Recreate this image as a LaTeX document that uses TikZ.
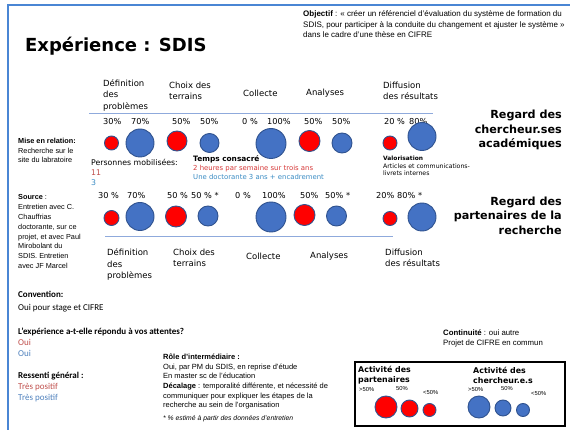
\documentclass[tikz,border=0pt]{standalone}
\usepackage{fontspec}
\setmainfont{Liberation Sans}
\newfontfamily\dejavu{DejaVu Sans}
\newfontfamily\carlito{Carlito}
\usepackage{tikz}
\definecolor{framblue}{RGB}{74,134,212}
\definecolor{ballblue}{RGB}{68,114,196}
\definecolor{ballline}{RGB}{47,82,143}
\definecolor{rulecol}{RGB}{143,170,220}
\definecolor{txtred}{RGB}{192,80,77}
\definecolor{txtblue}{RGB}{79,129,189}
\definecolor{tempsred}{RGB}{214,56,56}
\definecolor{tempsblue}{RGB}{58,140,196}
\newcommand\fsz[2]{\fontsize{#1}{#2}\selectfont}
\newcommand\heavy{\dejavu\bfseries}

\begin{document}
\begin{tikzpicture}[x=1pt, y=-1pt,
	txt/.style={inner sep=0pt, anchor=west, align=left},
	stage/.style={txt, font=\dejavu\fsz{8.5}{11.5}},
	pct/.style={txt, font=\dejavu\fsz{8.2}{10}},
	tiny/.style={txt, font=\fsz{5.8}{7}},
	ball/.style={circle, draw=ballline, line width=0.9pt, inner sep=0pt, minimum size=#1pt},
	regard/.style={inner sep=0pt, anchor=east, align=right, font=\heavy\fsz{11.2}{14.5}},
	rulerline/.style={rulecol, line width=1pt}]
	\fill[white] (0,0) rectangle (570,430);
	\useasboundingbox (0,0) rectangle (570,430);
	\draw[framblue, line width=2pt] (8,432) -- (8,5) -- (572,5);
	% Head
	\node[inner sep=0pt, anchor=base west, font=\heavy\fsz{18}{22}] (Title) at (25,52) {Expérience : SDIS};
	\node[txt, font=\fsz{8}{10.5}] (Objectif) at (303,24.5) {\textbf{Objectif} : « créer un référenciel d'évaluation du système de formation du\\SDIS, pour participer à la conduite du changement et ajuster le système »\\dans le cadre d'une thèse en CIFRE};
	% Regard des chercheur.ses
	\node[stage] (AcDef) at (103,95) {Définition\\des\\problèmes};
	\node[stage] (AcCho) at (169,91) {Choix des\\terrains};
	\node[stage] (AcCol) at (243,93) {Collecte};
	\node[stage] (AcAna) at (306,93) {Analyses};
	\node[stage] (AcDif) at (383,91) {Diffusion\\des résultats};
	\coordinate (AcRuleL) at (89,114);
	\coordinate (AcRuleR) at (433,114);
	\draw[rulerline] (AcRuleL) -- (AcRuleR);
	\foreach \x/\t [count=\i] in {103/30\%, 131/70\%, 172/50\%, 200/50\%, 242/0 \%, 267/100\%, 304/50\%, 332/50\%, 384/20 \%, 409/80\%}
		\node[pct] (AcPct\i) at (\x,121.5) {\t};
	\foreach \n/\x/\y/\d/\f in {AcDefR/111.5/143/14/red, AcDefB/140/143/28/ballblue, AcChoR/177/141/20/red, AcChoB/209.5/143/19/ballblue, AcColB/271/143.5/30/ballblue, AcAnaR/309.5/141/21/red, AcAnaB/342/143/20/ballblue, AcDifR/390/143/14/red, AcDifB/422/136.5/28/ballblue}
		\node[ball=\d, fill=\f] (\n) at (\x,\y) {};
	\node[regard] (RegardAcad) at (562,130) {Regard des\\chercheur.ses\\académiques};
	\node[txt, font=\dejavu\fsz{7.8}{10}] (Personnes) at (91,172) {Personnes mobilisées:\\\textcolor{txtred}{11}\\\textcolor{tempsblue}{3}};
	\node[txt, font=\dejavu\fsz{6.9}{9}] (Temps) at (193,168) {{\heavy\fsz{7.4}{9}Temps consacré}\\\textcolor{tempsred}{2 heures par semaine sur trois ans}\\\textcolor{tempsblue}{Une doctorante 3 ans + encadrement}};
	\node[txt, font=\dejavu\fsz{6.2}{7.5}] (Valor) at (383,166) {{\heavy\fsz{5.9}{7.5}Valorisation}\\Articles et communications-\\livrets internes};
	% Regard des partenaires
	\foreach \x/\t [count=\i] in {98/30 \%, 127/70\%, 167/50 \%, 191/50 \% *, 235/0 \%, 262/100\%, 300/50\%, 325/50\% *, 376/20\%, 397/80\% *}
		\node[pct] (PaPct\i) at (\x,195.5) {\t};
	\foreach \n/\x/\y/\d/\f in {PaDefR/111.5/218/15/red, PaDefB/140/216.5/28/ballblue, PaChoR/176/216.5/21/red, PaChoB/208/216/20/ballblue, PaColB/271/217/30/ballblue, PaAnaR/304.5/215/21/red, PaAnaB/336.5/216/20/ballblue, PaDifR/390/218.5/14/red, PaDifB/422/217/28/ballblue}
		\node[ball=\d, fill=\f] (\n) at (\x,\y) {};
	\coordinate (PaRuleL) at (105,236.5);
	\coordinate (PaRuleR) at (393,236.5);
	\draw[rulerline] (PaRuleL) -- (PaRuleR);
	\node[stage] (PaDef) at (107,264.5) {Définition\\des\\problèmes};
	\node[stage] (PaCho) at (173,258) {Choix des\\terrains};
	\node[stage] (PaCol) at (246,256) {Collecte};
	\node[stage] (PaAna) at (310,256.5) {Analyses};
	\node[stage] (PaDif) at (385,258) {Diffusion\\des résultats};
	\node[regard] (RegardPart) at (562,215.5) {Regard des\\partenaires de la\\recherche};
	% Left column
	\node[txt, font=\fsz{7.3}{9.5}] (MiseRel) at (18,150.5) {\textbf{Mise en relation:}\\Recherche sur le\\site du labratoire};
	\node[txt, font=\fsz{7.3}{9.8}] (Source) at (18,231.6) {\textbf{Source} :\\Entretien avec C.\\Chauffrias\\doctorante, sur ce\\projet, et avec Paul\\Mirobolant du\\SDIS. Entretien\\avec JF Marcel};
	% Bottom
	\node[txt, font=\carlito\fsz{9}{13}] (Convention) at (18,301.5) {\textbf{Convention:}\\Oui pour stage et CIFRE};
	\node[txt, font=\carlito\fsz{9}{11}] (Attentes) at (18,342) {\textbf{L’expérience a-t-elle répondu à vos attentes?}\\\textcolor{txtred}{Oui}\\\textcolor{txtblue}{Oui}};
	\node[txt, font=\carlito\fsz{9}{11}] (Ressenti) at (18,387) {\textbf{Ressenti général :}\\\textcolor{txtred}{Très positif}\\\textcolor{txtblue}{Très positif}};
	\node[txt, font=\fsz{7.5}{9.5}] (Role) at (163,366.5) {\textbf{Rôle d'intermédiaire :}\\Oui, par PM du SDIS, en reprise d'étude\\En master sc de l'éducation};
	\node[txt, font=\fsz{7.5}{9.5}] (Decalage) at (163,396.5) {\textbf{Décalage} : temporalité différente, et nécessité de\\communiquer pour expliquer les étapes de la\\recherche au sein de l'organisation};
	\node[txt, font=\itshape\fsz{6.8}{8}] (Note) at (163,419) {* \% estimé à partir des données d'entretien};
	\node[txt, font=\fsz{7.8}{10.5}] (Continuite) at (443,338.5) {\textbf{Continuité} : oui autre\\Projet de CIFRE en commun};
	% Legend
	\node[draw, line width=1.8pt, minimum width=210pt, minimum height=64pt, inner sep=0pt] (Legend) at (460,394) {};
	\node[txt, font=\heavy\fsz{7.9}{10}] (LegPart) at (358,375) {Activité des\\partenaires};
	\node[txt, font=\heavy\fsz{7.9}{10}] (LegCherch) at (473,375) {Activité des\\chercheur.e.s};
	\foreach \n/\x/\y/\t in {LegPartA/359/389.5/{>}50\%, LegPartB/396/389/50\%, LegPartC/423/393/{<}50\%, LegCherA/468/389.5/{>}50\%, LegCherB/501/389/50\%, LegCherC/531/394/{<}50\%}
		\node[tiny] (\n) at (\x,\y) {\t};
	\foreach \n/\x/\y/\d/\f in {LegPartBig/386/407/22/red, LegPartMid/409.5/408.5/17/red, LegPartSmall/429.5/410/13/red, LegCherBig/479/407/22/ballblue, LegCherMid/503/408/16/ballblue, LegCherSmall/523/410/13/ballblue}
		\node[ball=\d, fill=\f] (\n) at (\x,\y) {};
\end{tikzpicture}
\end{document}
